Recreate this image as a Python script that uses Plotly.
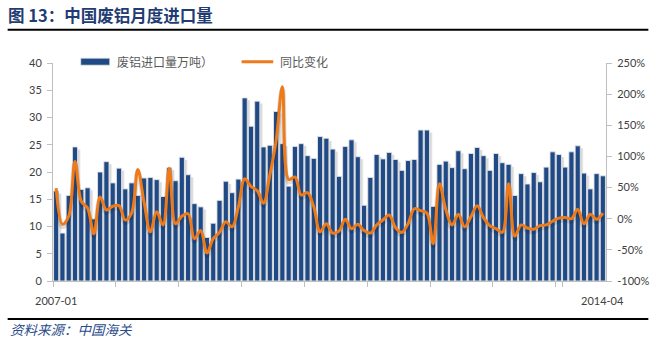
import plotly.graph_objects as go

# Monthly scrap aluminium imports (10k tonnes) and year-on-year change (%), 2007-01 .. 2014-04
months = [f"{y}-{m:02d}" for y in range(2007, 2015) for m in range(1, 13)][:88]

imports = [
    16.5, 8.8, 15.7, 24.6, 16.8, 17.1, 11.4, 20.0, 21.9, 18.0, 20.7, 16.9,   # 2007
    18.0, 15.7, 18.9, 19.0, 18.6, 15.5, 20.8, 18.4, 22.7, 19.5, 14.2, 13.6,  # 2008
    8.0, 10.6, 14.8, 18.3, 16.2, 18.7, 33.6, 28.4, 33.0, 24.6, 24.9, 31.1,   # 2009
    25.2, 17.4, 24.7, 25.2, 23.0, 22.5, 26.5, 26.2, 24.2, 19.2, 24.7, 25.9,  # 2010
    22.8, 13.9, 19.0, 23.2, 22.4, 23.6, 22.3, 20.3, 22.1, 22.3, 27.7, 27.7,  # 2011
    13.7, 21.4, 22.0, 20.8, 23.9, 20.6, 23.4, 24.5, 23.0, 20.3, 23.4, 21.7,  # 2012
    21.4, 15.7, 19.7, 17.8, 19.9, 18.2, 20.9, 23.7, 23.2, 20.9, 23.7, 24.8,  # 2013
    19.8, 16.9, 19.7, 19.3,                                                  # 2014
]

yoy = [
    49, -9, 4, 92, 28, 17, -24, 35, 14, 20, 21, -2,          # 2007
    9, 79, 26, -21, 11, -10, 81, -8, 4, 8, -32, -19,         # 2008
    -55, -32, -22, -5, -13, 19, 64, 52, 45, 25, 70, 125,     # 2009
    212, 63, 67, 38, 42, 19, -21, -8, -23, -20, -1, -16,     # 2010
    -9, -19, -23, -10, -2, 6, -14, -22, -8, 16, 13, 9,       # 2011
    -40, 56, 15, -10, 7, -13, 3, 21, 2, -11, -16, -22,       # 2012
    56, -28, -10, -15, -17, -11, -10, -4, 1, 2, 0, 15,       # 2013
    -8, 7, -1, 9,                                            # 2014
]

left_ticks = list(range(0, 41, 5))
right_ticks = list(range(-100, 251, 50))
right_labels = [f"{v}%" for v in right_ticks]

title_text = "图 13：中国废铝月度进口量"
bar_name = "废铝进口量万吨）"
line_name = "同比变化"
source_text = "资料来源：中国海关"

BLUE = "#1F4A86"
ORANGE = "#EE7A1A"
AXIS = "#BFBFBF"
TXT = "#404040"
NUM_FONT = dict(family="Lato, 'Liberation Sans', sans-serif", size=11, color=TXT)
CJK = "'Noto Sans CJK SC', sans-serif"

fig = go.Figure()

# soft drop shadow behind the bars (drawn on a slightly shifted, hidden axis)
fig.add_bar(x=months, y=imports, yaxis="y", width=0.95, offset=-0.05,
            marker=dict(color="rgba(0,0,0,0.06)", line=dict(width=0)),
            showlegend=False, hoverinfo="skip")
fig.add_bar(x=months, y=imports, yaxis="y", width=0.76, offset=0.0,
            marker=dict(color="rgba(0,0,0,0.09)", line=dict(width=0)),
            showlegend=False, hoverinfo="skip")

# import volume bars
fig.add_bar(x=months, y=imports, yaxis="y2", width=0.82, name=bar_name,
            marker=dict(color=BLUE, line=dict(color="#E4E4E4", width=0.9)),
            showlegend=False)

# shadow under the YoY line
fig.add_scatter(x=months, y=yoy, yaxis="y3", mode="lines",
                line=dict(color="rgba(0,0,0,0.13)", width=5, shape="spline", smoothing=1),
                showlegend=False, hoverinfo="skip")
# YoY change line
fig.add_scatter(x=months, y=yoy, yaxis="y4", mode="lines", name=line_name,
                line=dict(color=ORANGE, width=3, shape="spline", smoothing=1),
                showlegend=False)

# pixel -> paper helpers for the frame around the plot area
L, R, T, B = 53.3, 605.7, 63.3, 280.7
def px(x):
    return (x - L) / (R - L)
def py(y):
    return (B - y) / (B - T)

shapes = [
    # rules above and below the chart
    dict(type="line", xref="paper", yref="paper", x0=px(8), x1=px(648), y0=py(30.2), y1=py(30.2),
         line=dict(color="black", width=2)),
    dict(type="line", xref="paper", yref="paper", x0=px(8), x1=px(648), y0=py(318.5), y1=py(318.5),
         line=dict(color="black", width=2)),
    # legend keys
    dict(type="rect", xref="paper", yref="paper", x0=px(81), x1=px(110), y0=py(65.5), y1=py(58.5),
         fillcolor=BLUE, line=dict(color="#E4E4E4", width=0.8)),
    dict(type="line", xref="paper", yref="paper", x0=px(241.7), x1=px(273.3), y0=py(62), y1=py(62),
         line=dict(color=ORANGE, width=3)),
]

annotations = [
    dict(xref="paper", yref="paper", x=px(115), y=py(62), text=bar_name, showarrow=False,
         xanchor="left", yanchor="middle", font=dict(family=CJK, size=12, color="#595959")),
    dict(xref="paper", yref="paper", x=px(278), y=py(62), text=line_name, showarrow=False,
         xanchor="left", yanchor="middle", font=dict(family=CJK, size=12, color="#595959")),
    dict(xref="x", yref="paper", x=months[0], y=py(300.5), text=months[0], showarrow=False,
         xanchor="center", yanchor="middle", font=NUM_FONT),
    dict(xref="x", yref="paper", x=months[-1], y=py(300.5), text=months[-1], showarrow=False,
         xanchor="center", yanchor="middle", font=NUM_FONT),
    dict(xref="paper", yref="paper", x=px(8), y=py(328.5), text=source_text, showarrow=False,
         xanchor="left", yanchor="middle",
         font=dict(family=CJK, size=13.5, color="#2B4C8C", style="italic")),
]

shadow_dy_left = 0.45   # ~2.5 px in left-axis units
shadow_dy_right = 4.0   # ~2.5 px in right-axis units

fig.update_layout(
    width=655, height=342,
    margin=dict(l=L, r=655 - R, t=T, b=342 - B, autoexpand=False),
    paper_bgcolor="white", plot_bgcolor="white",
    barmode="overlay",
    showlegend=False,
    title=dict(text=f"<b>{title_text}</b>", xref="container", yref="container",
               x=8 / 655, y=1 - 15.8 / 342, xanchor="left", yanchor="middle",
               font=dict(family=CJK, size=16.5, color="#1F3C73")),
    xaxis=dict(type="category", range=[-0.5, len(months) - 0.5],
               tickmode="array", tickvals=months[::10], tickson="boundaries",
               ticks="outside", ticklen=5, tickcolor=AXIS, tickwidth=1,
               showticklabels=False, showline=True, linecolor=AXIS, linewidth=1,
               showgrid=False, zeroline=False),
    yaxis=dict(range=[shadow_dy_left, 40 + shadow_dy_left], visible=False, showgrid=False),
    yaxis2=dict(overlaying="y", side="left", range=[0, 40], tickvals=left_ticks,
                ticks="outside", ticklen=5, tickcolor=AXIS, ticklabelstandoff=3,
                showline=True, linecolor=AXIS, linewidth=1, showgrid=False, zeroline=False,
                tickfont=NUM_FONT),
    yaxis3=dict(overlaying="y", range=[-100 + shadow_dy_right, 250 + shadow_dy_right],
                visible=False, showgrid=False),
    yaxis4=dict(overlaying="y", side="right", range=[-100, 250],
                tickmode="array", tickvals=right_ticks, ticktext=right_labels,
                ticks="outside", ticklen=5, tickcolor=AXIS, ticklabelstandoff=3,
                showline=True, linecolor=AXIS, linewidth=1, showgrid=False, zeroline=False,
                tickfont=NUM_FONT),
    shapes=shapes,
    annotations=annotations,
)

fig.write_html("out.html")
